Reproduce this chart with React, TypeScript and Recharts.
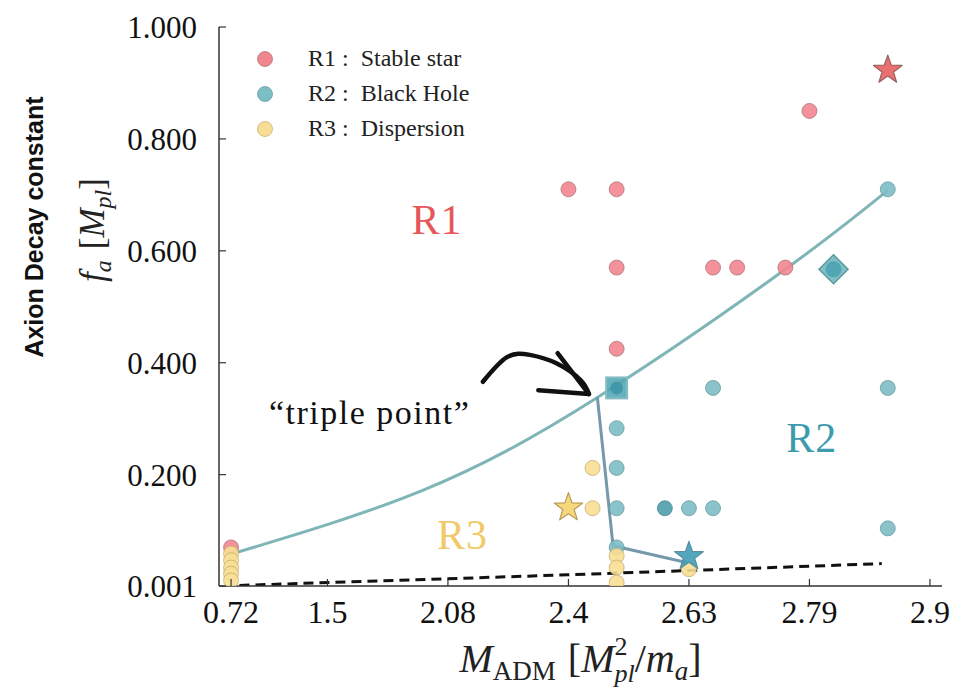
import React from 'react';
import { ComposedChart, Scatter, Line, XAxis, YAxis, ReferenceDot, Legend } from 'recharts';

// x axis is drawn on an index-like scale, labels are the M_ADM values
const xTickPos = [0.2, 1, 2, 3, 4, 5, 6];
const xTickLabels = ['0.72', '1.5', '2.08', '2.4', '2.63', '2.79', '2.9'];
const yTicks = [0.001, 0.2, 0.4, 0.6, 0.8, 1.0];

const stableStar = [
  { x: 0.2, y: 0.07 }, { x: 3.0, y: 0.71 }, { x: 3.4, y: 0.71 }, { x: 3.4, y: 0.57 },
  { x: 4.2, y: 0.57 }, { x: 4.4, y: 0.57 }, { x: 4.8, y: 0.57 }, { x: 5.0, y: 0.85 },
  { x: 3.4, y: 0.425 },
];
const stableStarMark = [{ x: 5.65, y: 0.923 }];

const blackHole = [
  { x: 5.65, y: 0.71 }, { x: 4.2, y: 0.355 }, { x: 5.65, y: 0.355 }, { x: 3.4, y: 0.283 },
  { x: 3.4, y: 0.212 }, { x: 3.4, y: 0.14 }, { x: 4.0, y: 0.14 }, { x: 4.2, y: 0.14 },
  { x: 5.65, y: 0.104 }, { x: 3.4, y: 0.07 },
];
const blackHoleDark = [{ x: 3.8, y: 0.14 }];
const blackHoleSquare = [{ x: 3.4, y: 0.355 }];
const blackHoleDiamond = [{ x: 5.2, y: 0.567 }];
const blackHoleStar = [{ x: 4.0, y: 0.054 }];

const dispersion = [
  { x: 3.2, y: 0.212 }, { x: 3.2, y: 0.14 }, { x: 3.4, y: 0.055 }, { x: 3.4, y: 0.034 },
  { x: 3.4, y: 0.007 }, { x: 4.0, y: 0.031 }, { x: 0.2, y: 0.059 }, { x: 0.2, y: 0.047 },
  { x: 0.2, y: 0.034 }, { x: 0.2, y: 0.023 }, { x: 0.2, y: 0.011 },
];
const dispersionStar = [{ x: 3.0, y: 0.141 }];

const boundaryR1R2 = [
  { x: 0.2, y: 0.058 }, { x: 1.79, y: 0.172 }, { x: 3.24, y: 0.338 },
  { x: 4.8, y: 0.567 }, { x: 5.65, y: 0.708 },
];
const boundaryR2R3 = [{ x: 3.24, y: 0.338 }, { x: 3.37, y: 0.073 }, { x: 3.98, y: 0.043 }];
const boundaryR3 = [{ x: 0.27, y: 0.002 }, { x: 3.0, y: 0.021 }, { x: 5.6, y: 0.041 }];

const arrowCurve = [
  { x: 2.29, y: 0.366 }, { x: 2.49, y: 0.41 }, { x: 2.68, y: 0.414 },
  { x: 2.9, y: 0.399 }, { x: 3.1, y: 0.369 }, { x: 3.17, y: 0.344 },
];
const arrowHead = [{ x: 2.91, y: 0.417 }, { x: 3.17, y: 0.344 }, { x: 2.75, y: 0.351 }];

const legendLabels = ['R1 :  Stable star', 'R2 :  Black Hole', 'R3 :  Dispersion'];

const SERIF = '"Liberation Serif", "DejaVu Serif", serif';
const SANS = '"Liberation Sans", Arial, sans-serif';
const AXIS = '#333';

const RED = { fill: '#f2868f', stroke: '#a86b72' };
const TEAL = { fill: '#7dbdc4', stroke: '#5d959c' };
const YEL = { fill: '#f8de94', stroke: '#c2a76a' };

const starPath = (cx: number, cy: number, R: number, r: number) => {
  let d = '';
  for (let i = 0; i < 10; i++) {
    const rad = i % 2 === 0 ? R : r;
    const a = -Math.PI / 2 + (i * Math.PI) / 5;
    d += (i === 0 ? 'M' : 'L') + (cx + rad * Math.cos(a)).toFixed(2) + ',' + (cy + rad * Math.sin(a)).toFixed(2);
  }
  return d + 'Z';
};

const circleShape = (c: { fill: string; stroke: string }) => (p: any) => (
  <circle cx={p.cx} cy={p.cy} r={7.5} fill={c.fill} fillOpacity={0.9} stroke={c.stroke} strokeOpacity={0.7} strokeWidth={1} />
);

const starShape = (fill: string, stroke: string) => (p: any) => (
  <path d={starPath(p.cx, p.cy, 15, 6)} fill={fill} fillOpacity={0.9} stroke={stroke} strokeWidth={1.2} strokeLinejoin="round" />
);

const squareShape = (p: any) => (
  <g>
    <rect x={p.cx - 10.5} y={p.cy - 10.5} width={21} height={21} fill="#4ea3b3" fillOpacity={0.85} stroke="#86bcc4" strokeWidth={2} />
    <circle cx={p.cx} cy={p.cy} r={6.5} fill="#3a93a6" fillOpacity={0.8} />
  </g>
);

const diamondShape = (p: any) => (
  <g>
    <polygon
      points={`${p.cx},${p.cy - 14.5} ${p.cx + 14.5},${p.cy} ${p.cx},${p.cy + 14.5} ${p.cx - 14.5},${p.cy}`}
      fill="#6db3bb" fillOpacity={0.85} stroke="#5a9aa0" strokeWidth={1.5}
    />
    <circle cx={p.cx} cy={p.cy} r={8} fill="#4aa3b3" fillOpacity={0.9} />
  </g>
);

const BottomTick = (props: any) => {
  const { x, y, payload } = props;
  const i = xTickPos.indexOf(payload.value);
  return (
    <g>
      <line x1={x} x2={x} y1={y} y2={y - 7} stroke={AXIS} strokeWidth={1.2} />
      <text x={x} y={y + 37} textAnchor="middle" fontFamily={SERIF} fontSize={32} fill="#111">
        {xTickLabels[i]}
      </text>
    </g>
  );
};

const TopTick = (props: any) => {
  const { x, y } = props;
  return <line x1={x} x2={x} y1={y} y2={y + 7} stroke={AXIS} strokeWidth={1.2} />;
};

const LeftTick = (props: any) => {
  const { x, y, payload } = props;
  return (
    <g>
      <line x1={x} x2={x + 7} y1={y} y2={y} stroke={AXIS} strokeWidth={1.2} />
      <text x={x - 22} y={y + 11} textAnchor="end" fontFamily={SERIF} fontSize={31} fill="#111">
        {Number(payload.value).toFixed(3)}
      </text>
    </g>
  );
};

const RightTick = (props: any) => {
  const { x, y } = props;
  return <line x1={x} x2={x - 7} y1={y} y2={y} stroke={AXIS} strokeWidth={1.2} />;
};

const XLabel = (props: any) => {
  const vb = props.viewBox;
  const cx = vb.x + vb.width / 2;
  const y = vb.y + 86;
  return (
    <text x={cx} y={y} textAnchor="middle" fontFamily={SERIF} fontSize={40} fill="#222">
      <tspan fontStyle="italic">M</tspan>
      <tspan fontSize={27} dy={8}>ADM</tspan>
      <tspan dy={-8} dx={12}>[</tspan>
      <tspan fontStyle="italic">M</tspan>
      <tspan fontSize={26} dy={-17}>2</tspan>
      <tspan fontSize={26} fontStyle="italic" dx={-13} dy={27}>pl</tspan>
      <tspan dy={-10}>/</tspan>
      <tspan fontStyle="italic">m</tspan>
      <tspan fontSize={27} fontStyle="italic" dy={8}>a</tspan>
      <tspan dy={-8}>]</tspan>
    </text>
  );
};

const YLabel = () => (
  <g>
    <text x={43} y={227} transform="rotate(-90, 43, 227)" textAnchor="middle" fontFamily={SANS} fontWeight="bold" fontSize={25} fill="#111">
      Axion Decay constant
    </text>
    <text x={104} y={230} transform="rotate(-90, 104, 230)" textAnchor="middle" fontFamily={SERIF} fontSize={35} fill="#222">
      <tspan fontStyle="italic">f</tspan>
      <tspan fontSize={24} fontStyle="italic" dy={7}>a</tspan>
      <tspan dy={-7} dx={11}>[</tspan>
      <tspan fontStyle="italic">M</tspan>
      <tspan fontSize={24} fontStyle="italic" dy={7}>pl</tspan>
      <tspan dy={-7}>]</tspan>
    </text>
  </g>
);

const textLabel = (text: string, color: string, size: number, spacing = 0) => (props: any) => {
  const vb = props.viewBox;
  return (
    <text
      x={vb.x + vb.width / 2}
      y={vb.y + vb.height / 2}
      textAnchor="middle"
      dominantBaseline="central"
      fontFamily={SERIF}
      fontSize={size}
      letterSpacing={spacing}
      fill={color}
    >
      {text}
    </text>
  );
};

const legendColors = [RED, TEAL, YEL];

const renderLegend = () => (
  <div style={{ fontFamily: SERIF, fontSize: 24, color: '#222' }}>
    {legendLabels.map((label, i) => (
      <div key={label} style={{ display: 'flex', alignItems: 'center', height: 35 }}>
        <svg width={20} height={20}>
          <circle cx={10} cy={10} r={7.5} fill={legendColors[i].fill} stroke={legendColors[i].stroke} strokeOpacity={0.7} />
        </svg>
        <span style={{ marginLeft: 33, whiteSpace: 'pre' }}>{label}</span>
      </div>
    ))}
  </div>
);

export default function App() {
  return (
    <div style={{ position: 'absolute', left: 0, top: 0, width: 960, height: 696, background: '#fff' }}>
      <ComposedChart width={960} height={696} margin={{ top: 27, right: 18, bottom: 0, left: 0 }}>
        <XAxis
          type="number" dataKey="x" domain={[0.1, 6.1]} ticks={xTickPos} interval={0} allowDataOverflow
          tickSize={0} tickMargin={0} tickLine={false} tick={<BottomTick />} height={110}
          axisLine={{ stroke: AXIS, strokeWidth: 1.5 }} label={(p: any) => <XLabel {...p} />}
        />
        <XAxis
          xAxisId="top" orientation="top" type="number" dataKey="x" domain={[0.1, 6.1]} ticks={xTickPos}
          interval={0} allowDataOverflow tickSize={0} tickMargin={0} tickLine={false} tick={<TopTick />}
          height={0} axisLine={{ stroke: AXIS, strokeWidth: 1.5 }}
        />
        <YAxis
          type="number" dataKey="y" domain={[0.001, 1]} ticks={yTicks} interval={0} allowDataOverflow
          tickSize={0} tickMargin={0} tickLine={false} tick={<LeftTick />} width={219}
          axisLine={{ stroke: AXIS, strokeWidth: 1.5 }} label={() => <YLabel />}
        />
        <YAxis
          yAxisId="right" orientation="right" type="number" dataKey="y" domain={[0.001, 1]} ticks={yTicks}
          interval={0} allowDataOverflow tickSize={0} tickMargin={0} tickLine={false} tick={<RightTick />}
          width={0} axisLine={{ stroke: AXIS, strokeWidth: 1.5 }}
        />

        <Legend
          layout="vertical" align="center" verticalAlign="middle" content={renderLegend}
          wrapperStyle={{ left: 255, top: 41, width: 280, height: 105 }}
        />

        <Line data={boundaryR3} dataKey="y" type="linear" stroke="#111" strokeWidth={3} strokeDasharray="10 6" dot={false} activeDot={false} isAnimationActive={false} />
        <Line data={boundaryR1R2} dataKey="y" type="natural" stroke="#7fb5b6" strokeWidth={3} dot={false} activeDot={false} isAnimationActive={false} />
        <Line data={boundaryR2R3} dataKey="y" type="linear" stroke="#7598ab" strokeWidth={3} dot={false} activeDot={false} isAnimationActive={false} />

        <Scatter data={stableStar} shape={circleShape(RED)} isAnimationActive={false} />
        <Scatter data={blackHole} shape={circleShape(TEAL)} isAnimationActive={false} />
        <Scatter data={blackHoleDark} shape={circleShape({ fill: '#4d9dab', stroke: '#3f7f8a' })} isAnimationActive={false} />
        <Scatter data={dispersion} shape={circleShape(YEL)} isAnimationActive={false} />
        <Scatter data={blackHoleSquare} shape={squareShape} isAnimationActive={false} />
        <Scatter data={blackHoleDiamond} shape={diamondShape} isAnimationActive={false} />
        <Scatter data={stableStarMark} shape={starShape('#e8605f', '#9a6060')} isAnimationActive={false} />
        <Scatter data={blackHoleStar} shape={starShape('#3f9db5', '#5a8fa0')} isAnimationActive={false} />
        <Scatter data={dispersionStar} shape={starShape('#f5d46e', '#b89c5a')} isAnimationActive={false} />

        <Line data={arrowCurve} dataKey="y" type="natural" stroke="#111" strokeWidth={4.5} strokeLinecap="round" dot={false} activeDot={false} isAnimationActive={false} />
        <Line data={arrowHead} dataKey="y" type="linear" stroke="#111" strokeWidth={4.5} strokeLinecap="round" strokeLinejoin="round" dot={false} activeDot={false} isAnimationActive={false} />

        <ReferenceDot x={1.91} y={0.655} r={0} fill="none" stroke="none" label={textLabel('R1', '#e5575a', 42, 1)} />
        <ReferenceDot x={5.02} y={0.265} r={0} fill="none" stroke="none" label={textLabel('R2', '#3c9cae', 42, 1)} />
        <ReferenceDot x={2.12} y={0.093} r={0} fill="none" stroke="none" label={textLabel('R3', '#f1c968', 42, 1)} />
        <ReferenceDot x={1.35} y={0.311} r={0} fill="none" stroke="none" label={textLabel('\u201Ctriple point\u201D', '#111', 34, 1.5)} />
      </ComposedChart>
    </div>
  );
}
